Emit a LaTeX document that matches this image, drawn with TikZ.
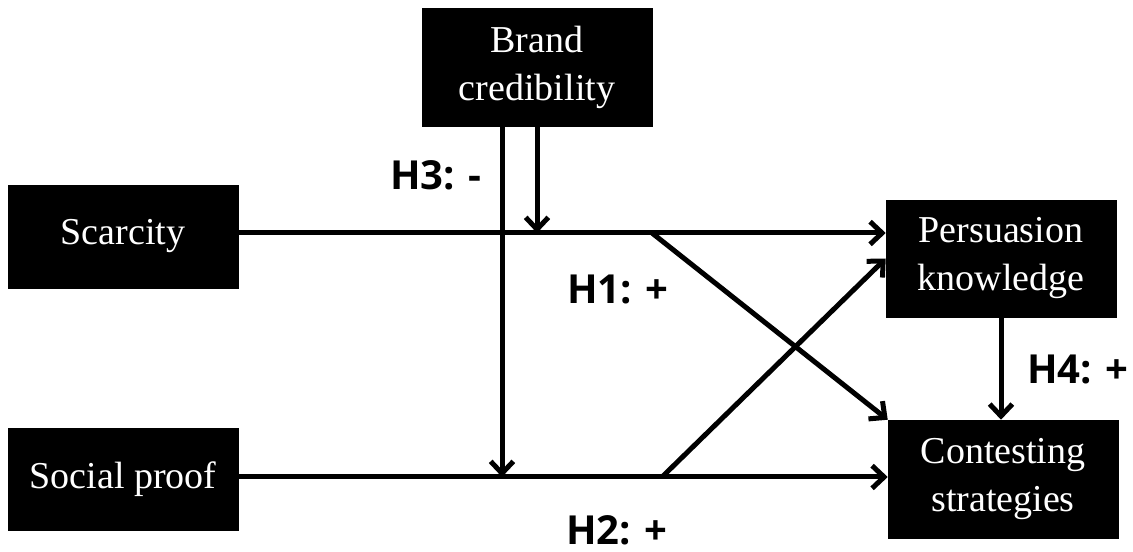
\documentclass[tikz,border=0pt]{standalone}
\usepackage{fontspec}
\setmainfont{Liberation Serif}
\newfontfamily\hypfont{Open Sans}
\usetikzlibrary{arrows.meta}

\begin{document}
\begin{tikzpicture}[x=0.75pt, y=-0.75pt,
  construct/.style={fill=black, draw=black, text=white, align=center,
    minimum width=230*0.75pt, inner sep=0pt,
    font=\fontsize{28.5pt}{36pt}\selectfont},
  hyp/.style={font=\hypfont\bfseries\fontsize{30pt}{36pt}\selectfont, inner sep=0pt},
  link/.style={line width=3.75pt, -{Straight Barb[length=9pt, width=17pt, line width=3.75pt]}}]

  \useasboundingbox (0,0) rectangle (1133,552);

  % constructs
  \node[construct, minimum height=118*0.75pt] (brand) at (537,67.5) {Brand\\credibility};
  \node[construct, minimum height=103*0.75pt] (scar)  at (123,236.5) {Scarcity};
  \node[construct, minimum height=102*0.75pt] (soc)   at (123,479) {Social proof};
  \node[construct, minimum height=117*0.75pt] (pers)  at (1001,258.5) {Persuasion\\knowledge};
  \node[construct, minimum height=118*0.75pt] (cont)  at (1003,479) {Contesting\\strategies};

  % junction points on the main paths
  \coordinate (j1) at (537,233);
  \coordinate (j2) at (502,477);
  \coordinate (d1) at (652,233);
  \coordinate (d2) at (662,477);

  % main effects
  \draw[link] (scar.east |- j1) -- (pers.west |- j1);
  \draw[link] (soc.east |- j2) -- (cont.west |- j2);
  \draw[link] (d1) -- (cont.north west);
  \draw[link] (d2) -- (pers.west);
  \draw[link] (pers.south) -- (pers.south |- cont.north);

  % moderation by brand credibility
  \draw[link] (brand.south) -- (j1);
  \draw[link] (brand.south -| j2) -- (j2);

  % hypothesis labels
  \node[hyp] (h3) at (436,175) {H3: -};
  \node[hyp] (h1) at (618,289) {H1: +};
  \node[hyp] (h2) at (617,530) {H2: +};
  \node[hyp] (h4) at (1078,369) {H4: +};
\end{tikzpicture}
\end{document}
